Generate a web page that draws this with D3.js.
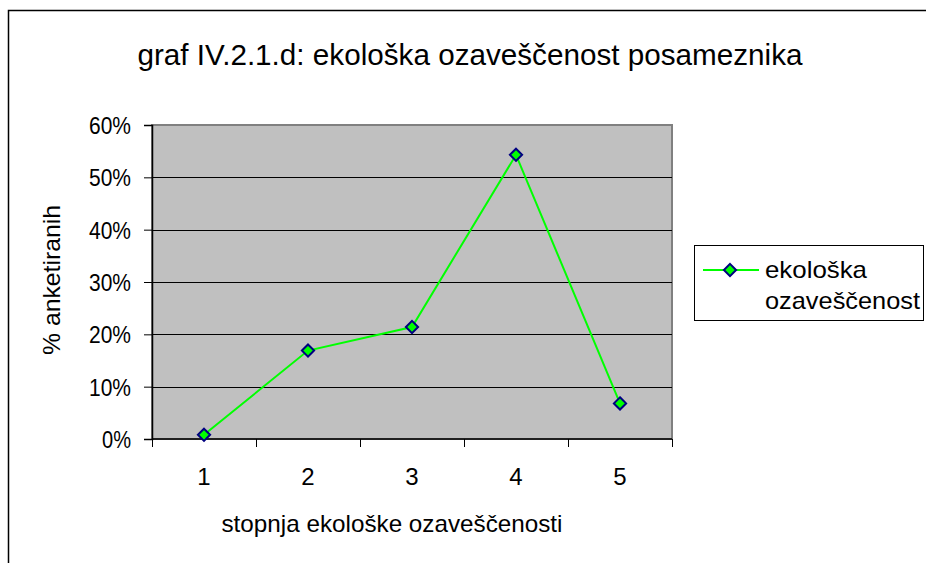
<!DOCTYPE html>
<html>
<head>
<meta charset="utf-8">
<script src="https://cdn.jsdelivr.net/npm/d3@7"></script>
<style>
  body { margin: 0; background: #fff; }
  text { font-family: "Liberation Sans", Arial, sans-serif; fill: #000; }
</style>
</head>
<body>
<div id="chart"></div>
<script>
var categories = ["1", "2", "3", "4", "5"];
var values = [0.008, 0.169, 0.214, 0.543, 0.068];
var yTicks = [0, 0.1, 0.2, 0.3, 0.4, 0.5, 0.6];
var seriesName = ["ekološka", "ozaveščenost"];
var titleText = "graf IV.2.1.d: ekološka ozaveščenost posameznika";
var xTitle = "stopnja ekološke ozaveščenosti";
var yTitle = "% anketiranih";

var chart_width = 926;
var chart_height = 563;

var plot = { left: 152, right: 672, top: 125, bottom: 439 };

var svg = d3.select("#chart")
    .append("svg")
    .attr("width", chart_width)
    .attr("height", chart_height);

// outer chart frame (runs off right and bottom edges)
svg.append("rect")
    .attr("x", 8.5)
    .attr("y", 10.5)
    .attr("width", 940)
    .attr("height", 600)
    .attr("fill", "#fff")
    .attr("stroke", "#000")
    .attr("stroke-width", 1.5);

var x = d3.scaleBand()
    .domain(categories)
    .range([plot.left, plot.right]);

var y = d3.scaleLinear()
    .domain([0, 0.6])
    .range([plot.bottom, plot.top]);

// plot area
svg.append("rect")
    .attr("x", plot.left)
    .attr("y", plot.top)
    .attr("width", plot.right - plot.left)
    .attr("height", plot.bottom - plot.top)
    .attr("fill", "#c0c0c0")
    .attr("stroke", "#808080")
    .attr("stroke-width", 2);

// gridlines
svg.append("g")
  .selectAll("line")
  .data(yTicks.filter(function(d){ return d > 0 && d < 0.6; }))
  .enter()
  .append("line")
    .attr("x1", plot.left)
    .attr("x2", plot.right)
    .attr("y1", function(d){ return Math.round(y(d)) + 0.5; })
    .attr("y2", function(d){ return Math.round(y(d)) + 0.5; })
    .attr("stroke", "#000")
    .attr("stroke-width", 1);

// y axis
var yAxis = d3.axisLeft(y)
    .tickValues(yTicks)
    .tickFormat(d3.format(".0%"))
    .tickSize(8)
    .tickPadding(13);

var gy = svg.append("g")
    .attr("transform", "translate(" + plot.left + ",0)")
    .call(yAxis);
gy.attr("font-size", null).attr("font-family", null);
gy.select(".domain").attr("stroke", "#000").attr("stroke-width", 1.5);
gy.selectAll(".tick line").attr("stroke", "#000");
gy.selectAll(".tick text")
    .style("font-size", "24px")
    .attr("textLength", function(d){ return d === 0 ? 29 : 42; })
    .attr("lengthAdjust", "spacingAndGlyphs")
    .attr("dy", "0.36em");

// x axis: ticks between categories
var xBounds = categories.map(function(c){ return x(c); }).concat([plot.right]);

var gx = svg.append("g");
gx.append("line")
    .attr("x1", plot.left)
    .attr("x2", plot.right)
    .attr("y1", plot.bottom)
    .attr("y2", plot.bottom)
    .attr("stroke", "#000")
    .attr("stroke-width", 1.5);
gx.selectAll("line.tk")
  .data(xBounds)
  .enter()
  .append("line")
    .attr("class", "tk")
    .attr("x1", function(d){ return Math.round(d) + 0.5; })
    .attr("x2", function(d){ return Math.round(d) + 0.5; })
    .attr("y1", plot.bottom)
    .attr("y2", plot.bottom + 8)
    .attr("stroke", "#000");
gx.selectAll("text")
  .data(categories)
  .enter()
  .append("text")
    .attr("x", function(d){ return x(d) + x.bandwidth() / 2; })
    .attr("y", 485)
    .attr("text-anchor", "middle")
    .style("font-size", "24px")
    .text(function(d){ return d; });

// series line
var line = d3.line()
    .x(function(d, i){ return x(categories[i]) + x.bandwidth() / 2; })
    .y(function(d){ return y(d); });

svg.append("path")
    .datum(values)
    .attr("d", line)
    .attr("fill", "none")
    .attr("stroke", "#00ff00")
    .attr("stroke-width", 2);

var diamond = d3.symbol().type(d3.symbolDiamond2).size(95);

svg.selectAll("path.marker")
  .data(values)
  .enter()
  .append("path")
    .attr("class", "marker")
    .attr("d", diamond)
    .attr("transform", function(d, i){
      return "translate(" + (x(categories[i]) + x.bandwidth() / 2) + "," + y(d) + ")";
    })
    .attr("fill", "#00ff00")
    .attr("stroke", "#000080")
    .attr("stroke-width", 2);

// title
svg.append("text")
    .attr("x", 470)
    .attr("y", 65)
    .attr("text-anchor", "middle")
    .style("font-size", "29px")
    .attr("textLength", 665)
    .attr("lengthAdjust", "spacingAndGlyphs")
    .text(titleText);

// axis titles
svg.append("text")
    .attr("x", 392)
    .attr("y", 532)
    .attr("text-anchor", "middle")
    .style("font-size", "24px")
    .attr("textLength", 341)
    .attr("lengthAdjust", "spacingAndGlyphs")
    .text(xTitle);

svg.append("text")
    .attr("transform", "translate(60,280) rotate(-90)")
    .attr("text-anchor", "middle")
    .style("font-size", "24px")
    .attr("textLength", 150)
    .attr("lengthAdjust", "spacingAndGlyphs")
    .text(yTitle);

// legend
var legend = svg.append("g");
legend.append("rect")
    .attr("x", 694.5)
    .attr("y", 245.5)
    .attr("width", 229)
    .attr("height", 75)
    .attr("fill", "#fff")
    .attr("stroke", "#000")
    .attr("stroke-width", 1);
legend.append("line")
    .attr("x1", 703)
    .attr("x2", 759)
    .attr("y1", 270)
    .attr("y2", 270)
    .attr("stroke", "#00ff00")
    .attr("stroke-width", 2);
legend.append("path")
    .attr("d", diamond)
    .attr("transform", "translate(730,270)")
    .attr("fill", "#00ff00")
    .attr("stroke", "#000080")
    .attr("stroke-width", 2);
legend.selectAll("text")
  .data(seriesName)
  .enter()
  .append("text")
    .attr("x", 765)
    .attr("y", function(d, i){ return 278 + i * 31; })
    .style("font-size", "24px")
    .attr("textLength", function(d, i){ return i === 0 ? 102 : 155; })
    .attr("lengthAdjust", "spacingAndGlyphs")
    .text(function(d){ return d; });
</script>
</body>
</html>
